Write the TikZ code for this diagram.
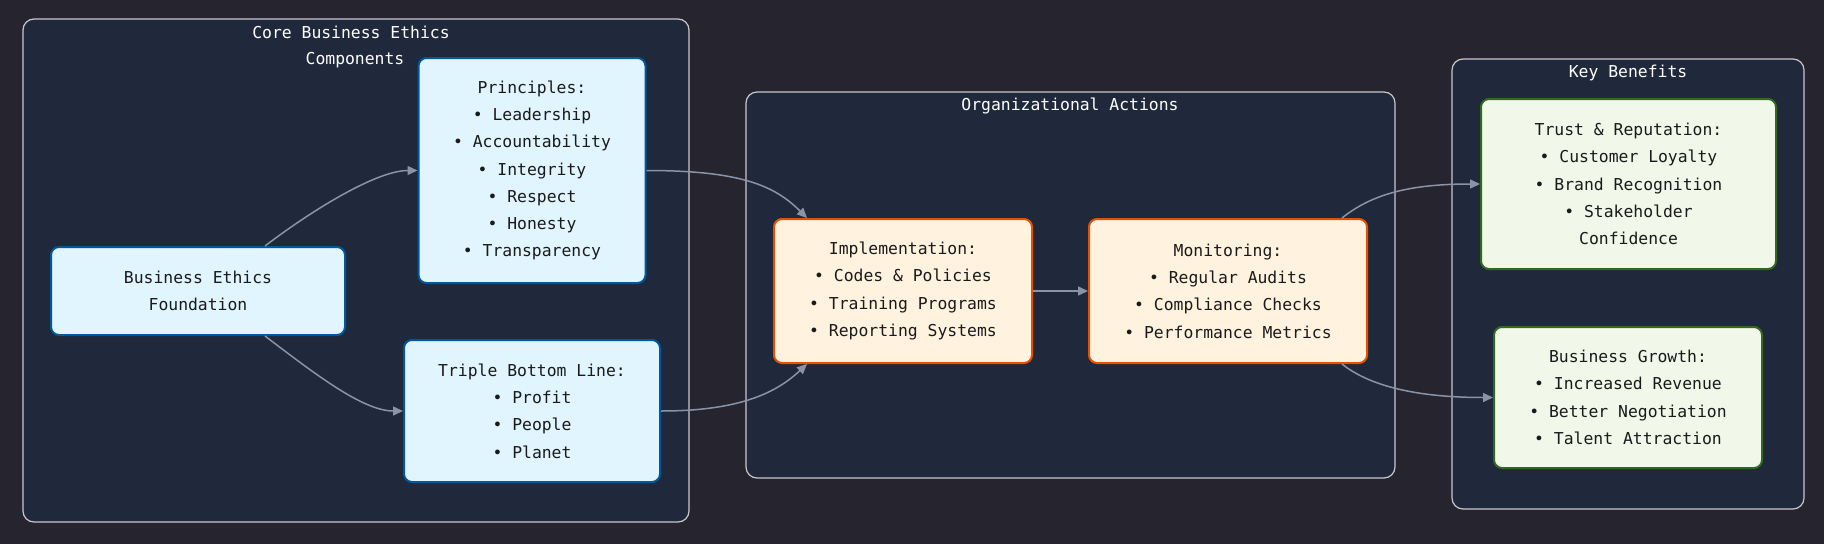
\documentclass[tikz,border=0pt]{standalone}
\usepackage{fontspec}
\newfontfamily\djm{DejaVu Sans Mono}
\usetikzlibrary{arrows.meta}
\definecolor{bgc}{HTML}{26242F}
\definecolor{clf}{HTML}{1F293B}
\definecolor{cls}{HTML}{C8C8CC}
\definecolor{bfill}{HTML}{E1F5FE}
\definecolor{bstroke}{HTML}{01579B}
\definecolor{ofill}{HTML}{FFF3E0}
\definecolor{ostroke}{HTML}{E65100}
\definecolor{gfill}{HTML}{F1F8E9}
\definecolor{gstroke}{HTML}{33691E}
\definecolor{edgec}{HTML}{8A94A8}
\definecolor{txt}{HTML}{1A1A1A}
\begin{document}
\begin{tikzpicture}[x=1pt,y=-1pt,
  every node/.style={font=\djm\fontsize{16.4}{27.3}\selectfont},
  cluster/.style={draw=cls,fill=clf,line width=1.2pt,rounded corners=11pt},
  ctitle/.style={text=white,inner sep=0pt,anchor=center},
  box/.style={rounded corners=8pt,line width=2pt,align=center,inner sep=0pt,text=txt},
  bluebox/.style={box,draw=bstroke,fill=bfill},
  orangebox/.style={box,draw=ostroke,fill=ofill},
  greenbox/.style={box,draw=gstroke,fill=gfill},
  conn/.style={draw=edgec,line width=1.5pt,-{Triangle[length=10pt,width=9pt]}}
]
\useasboundingbox (0,0) rectangle (1824,544);
\fill[bgc] (0,0) rectangle (1824,544);

% clusters
\draw[cluster] (23,19) rectangle (689,522);
\draw[cluster] (746,92) rectangle (1395,478);
\draw[cluster] (1452,59) rectangle (1804,509);
\node[ctitle] (t1a) at (351,32) {Core Business Ethics};
\node[ctitle] (t1b) at (355,60) {Components};
\node[ctitle] (t2) at (1070,106) {Organizational Actions};
\node[ctitle] (t3) at (1628,73) {Key Benefits};

% nodes
\node[bluebox,minimum width=294pt,minimum height=88pt] (found) at (198,291)
  {Business Ethics\\Foundation};
\node[bluebox,minimum width=227pt,minimum height=225pt] (princ) at (532,170.5)
  {Principles:\\• Leadership\\• Accountability\\• Integrity\\• Respect\\• Honesty\\• Transparency};
\node[bluebox,minimum width=256pt,minimum height=142pt] (triple) at (532,411)
  {Triple Bottom Line:\\• Profit\\• People\\• Planet};
\node[orangebox,minimum width=258pt,minimum height=144pt] (impl) at (903,291)
  {Implementation:\\• Codes \& Policies\\• Training Programs\\• Reporting Systems};
\node[orangebox,minimum width=278pt,minimum height=144pt] (monit) at (1228,291)
  {Monitoring:\\• Regular Audits\\• Compliance Checks\\• Performance Metrics};
\node[greenbox,minimum width=295pt,minimum height=170pt] (trust) at (1628.5,184)
  {Trust \& Reputation:\\• Customer Loyalty\\• Brand Recognition\\• Stakeholder\\Confidence};
\node[greenbox,minimum width=268pt,minimum height=141pt] (growth) at (1628,397.5)
  {Business Growth:\\• Increased Revenue\\• Better Negotiation\\• Talent Attraction};

% connectors
\draw[conn] ([xshift=67pt]found.north) .. controls +(50,-38) and +(-40,0) .. (princ.west);
\draw[conn] ([xshift=67pt]found.south) .. controls +(50,38) and +(-40,0) .. (triple.west);
\draw[conn] (princ.east) .. controls +(95,0) and +(-32,-32) .. ([xshift=-96pt]impl.north);
\draw[conn] (triple.east) .. controls +(80,0) and +(-30,28) .. ([xshift=-96pt]impl.south);
\draw[conn] (impl.east) -- (monit.east -| monit.west);
\draw[conn] ([xshift=114pt]monit.north) .. controls +(30,-24) and +(-70,0) .. (trust.west);
\draw[conn] ([xshift=114pt]monit.south) .. controls +(30,24) and +(-70,0) .. (growth.west);
\end{tikzpicture}
\end{document}
